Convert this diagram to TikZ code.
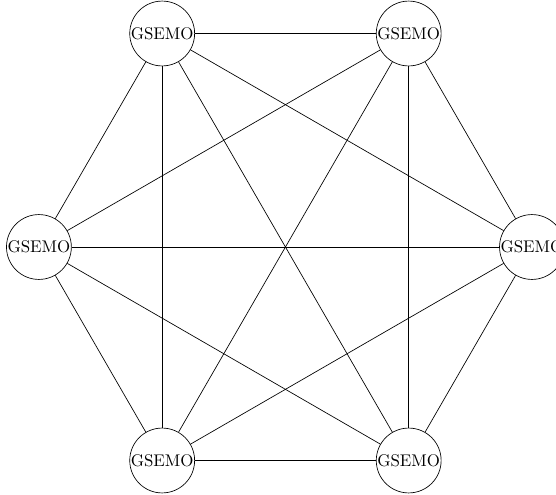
\documentclass[tikz,border=0pt]{standalone}
\begin{document}
\begin{tikzpicture}[every node/.style={circle, draw, inner sep=0pt, minimum size=1.35cm}]
        \useasboundingbox (-5.94,-5.14) rectangle (5.63,5.14);
        \foreach \i in {1,...,6}
            \node (g\i) at ({60*(\i-1)}:5.13) {GSEMO};
        \foreach \i in {1,...,5} {
            \pgfmathtruncatemacro{\k}{\i+1}
            \foreach \j in {\k,...,6}
                \draw (g\i) -- (g\j);
        }
    \end{tikzpicture}
\end{document}
